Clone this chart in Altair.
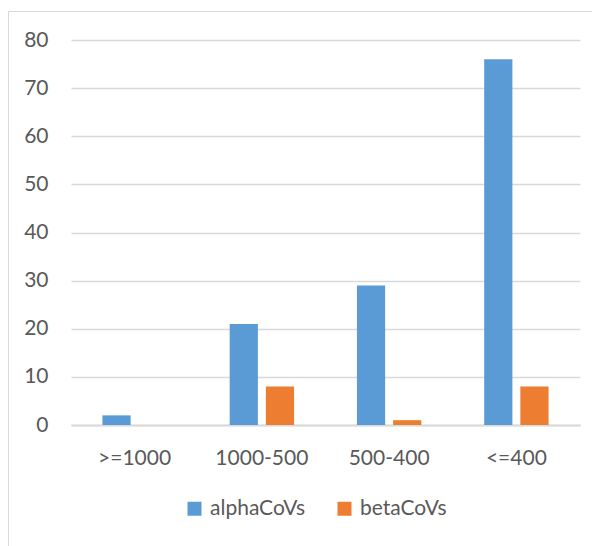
import altair as alt
import pandas as pd

categories = [">=1000", "1000-500", "500-400", "<=400"]
series = ["alphaCoVs", "betaCoVs"]
alpha_values = [2, 21, 29, 76]
beta_values = [0, 8, 1, 8]
y_ticks = [0, 10, 20, 30, 40, 50, 60, 70, 80]
colors = ["#5B9BD5", "#ED7D31"]

rows = []
for c, a, b in zip(categories, alpha_values, beta_values):
    rows.append({"category": c, "series": series[0], "value": a})
    rows.append({"category": c, "series": series[1], "value": b})
df = pd.DataFrame(rows)

font = "Lato"
text_color = "#595959"
line_color = "#d9d9d9"

bars = alt.Chart(df).mark_bar().encode(
    x=alt.X(
        "category:N",
        sort=categories,
        scale=alt.Scale(paddingInner=0.494, paddingOuter=0.247),
        axis=alt.Axis(
            title=None, labelAngle=0, ticks=False, labelPadding=22,
            domainColor=line_color, domainWidth=2, grid=False,
            labelFontSize=21, labelFont=font, labelColor=text_color,
        ),
    ),
    xOffset=alt.XOffset(
        "series:N", sort=series,
        scale=alt.Scale(paddingInner=0.22, paddingOuter=0),
    ),
    y=alt.Y(
        "value:Q",
        scale=alt.Scale(domain=[0, 80], nice=False),
        axis=alt.Axis(
            title=None, values=y_ticks, ticks=False, domain=False,
            labelPadding=23, gridColor=line_color, gridWidth=1.5,
            labelFontSize=21, labelFont=font, labelColor=text_color,
        ),
    ),
    color=alt.Color(
        "series:N",
        sort=series,
        scale=alt.Scale(domain=series, range=colors),
        legend=alt.Legend(
            title=None, orient="none", legendX=113, legendY=458,
            direction="horizontal", symbolType="square", symbolSize=196,
            symbolStrokeWidth=0, labelFontSize=21, labelFont=font,
            labelColor=text_color, labelOffset=5, columnPadding=28, padding=0,
        ),
    ),
)

frame = alt.Chart(pd.DataFrame({"k": [0]})).mark_rect(
    fill="transparent", stroke=line_color, strokeWidth=1
).encode(
    x=alt.value(-62.5), x2=alt.value(700), y=alt.value(-28.5), y2=alt.value(700)
)

chart = alt.layer(frame, bars).properties(
    width=509,
    height=385,
    padding={"left": 63, "top": 32, "right": 12, "bottom": 121},
    autosize=alt.AutoSizeParams(type="none"),
).configure_view(stroke="transparent")

chart.save("out.html", embed_options={"renderer": "svg", "actions": False})
